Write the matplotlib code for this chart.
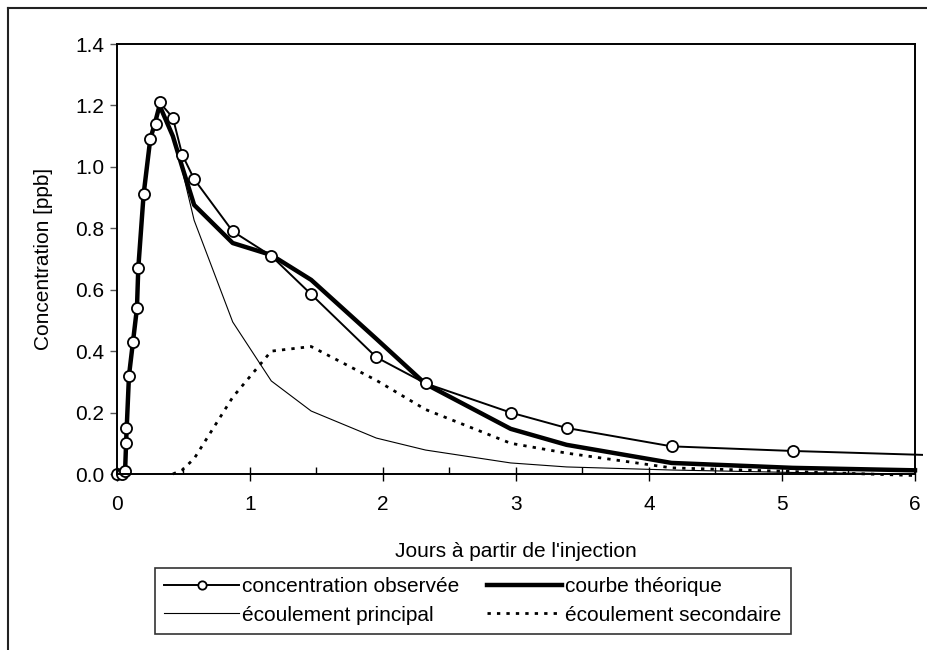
import matplotlib
matplotlib.use("Agg")
import matplotlib.pyplot as plt
from matplotlib.lines import Line2D
from matplotlib.patches import Rectangle
from matplotlib.ticker import MultipleLocator, FormatStrFormatter

plt.rcParams['font.family'] = ['Liberation Sans', 'DejaVu Sans']

# observed concentration
obs_days = [0.0, 0.04, 0.06, 0.068, 0.07, 0.09, 0.12, 0.15, 0.16, 0.20, 0.25, 0.29, 0.32,
            0.42, 0.49, 0.58, 0.87, 1.16, 1.46, 1.95, 2.32, 2.96, 3.38, 4.17, 5.08, 7.0]
obs_conc = [0.0, 0.0, 0.01, 0.10, 0.15, 0.32, 0.43, 0.54, 0.67, 0.91, 1.09, 1.14, 1.21,
            1.16, 1.04, 0.96, 0.79, 0.71, 0.585, 0.38, 0.295, 0.20, 0.15, 0.09, 0.075, 0.05]

# theoretical curve
theo_days = [0.06, 0.07, 0.09, 0.12, 0.15, 0.16, 0.20, 0.25, 0.29, 0.32, 0.42, 0.49, 0.58,
             0.87, 1.16, 1.46, 1.95, 2.32, 2.96, 3.38, 4.17, 5.08, 6.0]
theo_conc = [0.0, 0.12, 0.32, 0.43, 0.54, 0.67, 0.91, 1.09, 1.15, 1.20, 1.10, 1.00, 0.876,
             0.752, 0.713, 0.632, 0.44, 0.293, 0.147, 0.095, 0.036, 0.02, 0.012]

# main flow
main_days = [0.06, 0.07, 0.09, 0.12, 0.15, 0.16, 0.20, 0.25, 0.29, 0.32, 0.42, 0.49, 0.58,
             0.87, 1.16, 1.46, 1.95, 2.32, 2.96, 3.38, 4.17, 5.08, 6.0]
main_conc = [0.0, 0.12, 0.32, 0.43, 0.54, 0.67, 0.91, 1.09, 1.15, 1.20, 1.10, 0.99, 0.826,
             0.495, 0.303, 0.205, 0.117, 0.078, 0.036, 0.023, 0.013, 0.005, 0.0]

# secondary flow
sec_days = [0.42, 0.49, 0.58, 0.87, 1.16, 1.46, 1.95, 2.32, 2.96, 3.38, 4.17, 5.08, 6.0]
sec_conc = [0.0, 0.013, 0.05, 0.25, 0.40, 0.415, 0.305, 0.21, 0.10, 0.068, 0.02, 0.008, -0.005]

y_ticks = [0.0, 0.2, 0.4, 0.6, 0.8, 1.0, 1.2, 1.4]
x_ticks = [0, 1, 2, 3, 4, 5, 6]

FS = 15
W, H = 928, 650
fig = plt.figure(figsize=(W / 100, H / 100), dpi=100)
ax = fig.add_axes([117 / W, 1 - 474 / H, (915 - 117) / W, (474 - 44) / H])

clip = Rectangle((-0.02, -0.03), 1.03, 1.06, transform=ax.transAxes, visible=False)
ax.add_patch(clip)

l_main, = ax.plot(main_days, main_conc, color='black', lw=0.8, label='écoulement principal')
l_sec, = ax.plot(sec_days, sec_conc, color='black', lw=2.0, linestyle=(0, (1.2, 2.2)),
                 label='écoulement secondaire')
l_theo, = ax.plot(theo_days, theo_conc, color='black', lw=3.2, label='courbe théorique')
l_obs, = ax.plot(obs_days, obs_conc, color='black', lw=1.4, marker='o', markersize=8,
                 markerfacecolor='white', markeredgecolor='black', markeredgewidth=1.3,
                 label='concentration observée')
for ln in (l_main, l_sec, l_theo, l_obs):
    ln.set_clip_path(clip)

ax.set_xlim(0, 6)
ax.set_ylim(0, 1.4)
ax.set_xticks(x_ticks)
ax.xaxis.set_minor_locator(MultipleLocator(0.5))
ax.set_yticks(y_ticks)
ax.yaxis.set_major_formatter(FormatStrFormatter('%.1f'))
ax.tick_params(axis='x', which='major', direction='inout', length=10, width=1, labelsize=FS, pad=10)
ax.tick_params(axis='x', which='minor', direction='in', length=5, width=1)
ax.tick_params(axis='y', which='major', direction='out', length=5, width=1, color='#555555',
               labelsize=FS, pad=4)
for s in ax.spines.values():
    s.set_linewidth(1.4)
    s.set_color('black')

ax.set_ylabel('Concentration [ppb]', fontsize=FS, labelpad=16)
ax.set_xlabel("Jours à partir de l'injection", fontsize=FS, labelpad=20)

handles = [l_obs, l_main, l_theo, l_sec]
leg = fig.legend(handles=handles, labels=[h.get_label() for h in handles], ncol=2,
                 loc='upper left', bbox_to_anchor=(155 / W, 1 - 568 / H), fontsize=FS,
                 frameon=True, fancybox=False, edgecolor='#333333', framealpha=1,
                 handlelength=3.6, handletextpad=0.15, columnspacing=1.3,
                 labelspacing=0.45, borderpad=0.45, borderaxespad=0)
leg.get_frame().set_linewidth(1.2)
for h in leg.legend_handles:
    if h.get_marker() == 'o':
        h.set_markersize(6)

# outer chart frame
fig.add_artist(Line2D([8 / W, 8 / W], [0, 1 - 8 / H], color='#222222', lw=1.5,
                      transform=fig.transFigure))
fig.add_artist(Line2D([8 / W, 1], [1 - 8 / H, 1 - 8 / H], color='#222222', lw=1.5,
                      transform=fig.transFigure))

fig.savefig('out.png', dpi=100)
